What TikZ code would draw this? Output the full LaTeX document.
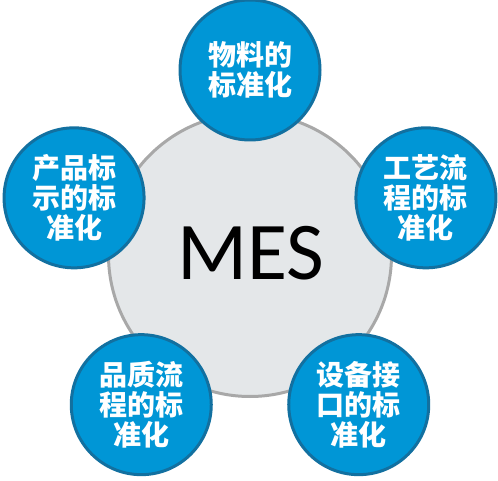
\documentclass[tikz,border=0pt]{standalone}
\usepackage{fontspec}
\setsansfont{Carlito}
\newfontfamily\cjk{Noto Sans CJK SC}[BoldFont={Noto Sans CJK SC Black}]
\usetikzlibrary{calc}
\definecolor{hubfill}{RGB}{228,231,233}
\definecolor{hubline}{RGB}{168,168,168}
\definecolor{itemfill}{RGB}{0,150,214}
\definecolor{itemline}{RGB}{18,112,160}
\newcommand*{\rhub }{141.5pt}
\newcommand*{\ritem}{70pt}
\newcommand*{\rring}{185pt}

\begin{document}
\begin{tikzpicture}[x=1pt, y=1pt,
    hub/.style  = {circle, fill=hubfill, draw=hubline, line width=3pt, minimum size=2*\rhub, inner sep=0pt},
    item/.style = {circle, fill=itemfill, draw=itemline, line width=3pt, minimum size=2*\ritem, inner sep=0pt,
                   text=white, align=center, font=\cjk\bfseries\fontsize{28}{30}\selectfont}]
    \useasboundingbox (0,0) rectangle (498,-481);
    \coordinate (c) at (250,-255);
        \node [hub] (mes) at (c) {};
        \node [font=\sffamily\fontsize{82}{82}\selectfont] (meslabel) at ($(c)+(1,2)$) {MES};
        \node [item] (material) at ($(c)+( 90:\rring)$) {物料的\\标准化};
        \node [item] (process)  at ($(c)+( 18:\rring)$) {工艺流\\程的标\\准化};
        \node [item] (device)   at ($(c)+(-54:\rring)$) {设备接\\口的标\\准化};
        \node [item] (quality)  at ($(c)+(234:\rring)$) {品质流\\程的标\\准化};
        \node [item] (product)  at ($(c)+(162:\rring)$) {产品标\\示的标\\准化};
    \end{tikzpicture}
\end{document}
